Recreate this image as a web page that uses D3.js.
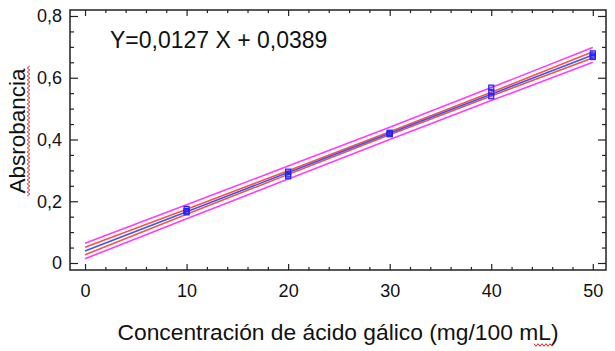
<!DOCTYPE html>
<html>
<head>
<meta charset="utf-8">
<script src="https://cdn.jsdelivr.net/npm/d3@7"></script>
<style>
  body { margin: 0; background: #fff; }
  text { font-family: "Liberation Sans", Arial, sans-serif; fill: #111; }
</style>
</head>
<body>
<div id="container"></div>
<script>
/* CONSTANTS AND GLOBALS */
const width = 615;
const height = 351;
const frame = { left: 70, right: 606, top: 10, bottom: 270 };

/* DATA */
const xTicks = [0, 10, 20, 30, 40, 50];
const yTicks = [0, 0.2, 0.4, 0.6, 0.8];
const equation = "Y=0,0127 X + 0,0389";

// measured points (concentration, absorbance)
const pointX = [10, 10, 10, 20, 20, 20, 30, 30, 30, 40, 40, 40, 50, 50, 50];
const pointY = [0.175, 0.168, 0.164, 0.296, 0.287, 0.281, 0.422, 0.419, 0.417,
                0.568, 0.553, 0.540, 0.679, 0.672, 0.667];

// fitted line and bands read at x = 0..50
const bandX = [0, 10, 20, 30, 40, 50];
const fitY = [0.0389, 0.1659, 0.2929, 0.4199, 0.5469, 0.6739];
const confUpper = [0.051, 0.174, 0.299, 0.425, 0.553, 0.684];
const confLower = [0.027, 0.158, 0.287, 0.415, 0.541, 0.664];
const predUpper = [0.064, 0.189, 0.314, 0.440, 0.568, 0.698];
const predLower = [0.014, 0.143, 0.272, 0.400, 0.526, 0.650];

const svg = d3.select("#container").append("svg")
  .attr("width", width)
  .attr("height", height);

/* SCALES */
const xScale = d3.scaleLinear()
  .domain([-1.48, 51.3])
  .range([frame.left, frame.right]);

const yScale = d3.scaleLinear()
  .domain([-0.0227, 0.8194])
  .range([frame.bottom, frame.top]);

const fmtY = d => d === 0 ? "0" : d3.format(".1f")(d).replace(".", ",");
const minorX = d3.range(0, 51, 2).filter(d => d % 10 !== 0);
const minorY = d3.range(0, 0.81, 0.05).filter((d, i) => i % 4 !== 0);

/* AXES */
function styleAxis(g) {
  g.select(".domain").remove();
  g.selectAll(".tick line").attr("stroke", "#222").attr("stroke-width", 1.2);
  g.selectAll(".tick text").style("font-size", "18px").attr("fill", "#111");
}

// left
svg.append("g").attr("transform", `translate(${frame.left},0)`)
  .call(d3.axisLeft(yScale).tickValues(yTicks).tickFormat(fmtY).tickSize(-8).tickPadding(8))
  .call(styleAxis);
svg.append("g").attr("transform", `translate(${frame.left},0)`)
  .call(d3.axisLeft(yScale).tickValues(minorY).tickFormat("").tickSize(-4))
  .call(styleAxis);
// right
svg.append("g").attr("transform", `translate(${frame.right},0)`)
  .call(d3.axisRight(yScale).tickValues(yTicks).tickFormat("").tickSize(-8))
  .call(styleAxis);
svg.append("g").attr("transform", `translate(${frame.right},0)`)
  .call(d3.axisRight(yScale).tickValues(minorY).tickFormat("").tickSize(-4))
  .call(styleAxis);
// bottom
svg.append("g").attr("transform", `translate(0,${frame.bottom})`)
  .call(d3.axisBottom(xScale).tickValues(xTicks).tickFormat(d3.format("d")).tickSize(-6).tickPadding(14))
  .call(styleAxis);
svg.append("g").attr("transform", `translate(0,${frame.bottom})`)
  .call(d3.axisBottom(xScale).tickValues(minorX).tickFormat("").tickSize(-3))
  .call(styleAxis);
// top
svg.append("g").attr("transform", `translate(0,${frame.top})`)
  .call(d3.axisTop(xScale).tickValues(xTicks).tickFormat("").tickSize(-6))
  .call(styleAxis);
svg.append("g").attr("transform", `translate(0,${frame.top})`)
  .call(d3.axisTop(xScale).tickValues(minorX).tickFormat("").tickSize(-3))
  .call(styleAxis);

/* LINES */
const line = d3.line()
  .x((d, i) => xScale(bandX[i]))
  .y(d => yScale(d))
  .curve(d3.curveMonotoneX);

const series = [
  { values: predUpper, color: "#ff3cff" },
  { values: predLower, color: "#ff3cff" },
  { values: confUpper, color: "#ff5040" },
  { values: confLower, color: "#ff5040" },
  { values: fitY, color: "#3358ff" }
];

svg.selectAll("path.band")
  .data(series)
  .join("path")
  .attr("class", "band")
  .attr("d", d => line(d.values))
  .attr("fill", "none")
  .attr("stroke", d => d.color)
  .attr("stroke-width", 1.6);

/* POINTS */
svg.selectAll("rect.pt")
  .data(pointX.map((x, i) => ({ x, y: pointY[i] })))
  .join("rect")
  .attr("class", "pt")
  .attr("x", d => xScale(d.x) - 2.5)
  .attr("y", d => yScale(d.y) - 2.5)
  .attr("width", 5)
  .attr("height", 5)
  .attr("fill", "rgba(40,40,255,0.3)")
  .attr("stroke", "#2222ff")
  .attr("stroke-width", 1.2);

/* FRAME */
svg.append("rect")
  .attr("x", frame.left)
  .attr("y", frame.top)
  .attr("width", frame.right - frame.left)
  .attr("height", frame.bottom - frame.top)
  .attr("fill", "none")
  .attr("stroke", "#222")
  .attr("stroke-width", 1.5);

/* TEXT */
svg.append("text")
  .attr("x", 110)
  .attr("y", 48)
  .style("font-size", "23px")
  .text(equation);

svg.append("text")
  .attr("x", 338)
  .attr("y", 340)
  .attr("text-anchor", "middle")
  .style("font-size", "22.8px")
  .text("Concentración de ácido gálico (mg/100 mL)");

svg.append("text")
  .attr("transform", "translate(25,131) rotate(-90)")
  .attr("text-anchor", "middle")
  .style("font-size", "22.5px")
  .text("Absrobancia");

// spell-check squiggles seen in the reference
function squiggle(x0, y0, len, vertical) {
  const pts = d3.range(0, len + 0.1, 2).map((t, i) => {
    const off = i % 2 === 0 ? -1.3 : 1.3;
    return vertical ? [x0 + off, y0 - t] : [x0 + t, y0 + off];
  });
  svg.append("path")
    .attr("d", d3.line()(pts))
    .attr("fill", "none")
    .attr("stroke", "#e02020")
    .attr("stroke-width", 1);
}
squiggle(28.5, 196, 130, true);
squiggle(534, 345, 20, false);
</script>
</body>
</html>
